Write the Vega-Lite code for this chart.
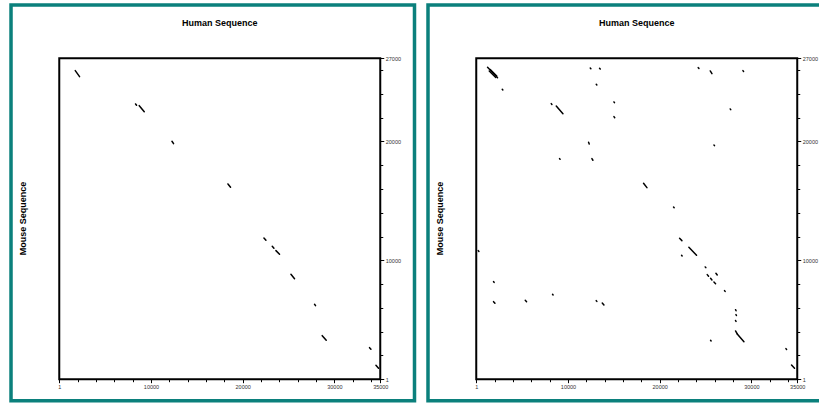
{
  "$schema": "https://vega.github.io/schema/vega-lite/v6.json",
  "background": "white",
  "padding": {"left": 9, "top": 3, "right": 0, "bottom": 0},
  "config": {
    "view": {"stroke": "#0b807c", "strokeWidth": 3.5},
    "font": "Liberation Sans",
    "concat": {"spacing": 9},
    "axis": {"labelFont": "Liberation Sans", "labelFontSize": 5.5, "labelColor": "#333", "tickColor": "black", "tickWidth": 1, "domain": false, "grid": false, "labelOverlap": false, "labelFlush": false, "labelBound": false, "title": null}
  },
  "hconcat": [
    {
      "width": 403.5,
      "height": 395.7,
      "layer": [
        {
          "data": {"values": [
            {"hx1": 1744, "my1": 25957, "hx2": 2213, "my2": 25452},
            {"hx1": 8320, "my1": 23155, "hx2": 8430, "my2": 23046},
            {"hx1": 8722, "my1": 23012, "hx2": 9267, "my2": 22508},
            {"hx1": 12288, "my1": 20018, "hx2": 12462, "my2": 19816},
            {"hx1": 18393, "my1": 16427, "hx2": 18677, "my2": 16149},
            {"hx1": 22317, "my1": 11885, "hx2": 22535, "my2": 11691},
            {"hx1": 23222, "my1": 11187, "hx2": 23407, "my2": 11018},
            {"hx1": 23625, "my1": 10817, "hx2": 24018, "my2": 10514},
            {"hx1": 25261, "my1": 8832, "hx2": 25654, "my2": 8461},
            {"hx1": 27835, "my1": 6308, "hx2": 27944, "my2": 6191},
            {"hx1": 28673, "my1": 3667, "hx2": 29109, "my2": 3280},
            {"hx1": 33832, "my1": 2658, "hx2": 33985, "my2": 2523},
            {"hx1": 34530, "my1": 1178, "hx2": 34813, "my2": 925}
          ]},
          "mark": {"type": "rule", "color": "black", "strokeWidth": 1.5, "strokeCap": "round"},
          "encoding": {
            "x": {"field": "hx1", "type": "quantitative", "scale": {"domain": [-5261, 38734], "nice": false, "zero": false},
              "axis": {"orient": "bottom", "offset": -21.5, "format": "d", "labelOverlap": false, "tickCount": 60,
                "values": [1, 2000, 4000, 6000, 8000, 10000, 12000, 14000, 16000, 18000, 20000, 22000, 24000, 26000, 28000, 30000, 32000, 34000, 35000],
                "labelExpr": "(datum.value == 1 || datum.value % 10000 == 0 || datum.value == 35000) ? datum.label : ''",
                "tickSize": {"condition": {"test": "datum.value == 1 || datum.value % 10000 == 0 || datum.value == 35000", "value": 3.5}, "value": 2.5},
                "labelPadding": 2}},
            "x2": {"field": "hx2"},
            "y": {"field": "my1", "type": "quantitative", "scale": {"domain": [-1804, 31479], "nice": false, "zero": false},
              "axis": {"orient": "right", "offset": -34.25, "format": "d", "labelOverlap": false, "tickCount": 60,
                "values": [1, 2000, 4000, 6000, 8000, 10000, 12000, 14000, 16000, 18000, 20000, 22000, 24000, 26000, 27000],
                "labelExpr": "(datum.value == 1 || datum.value % 10000 == 0 || datum.value == 27000) ? datum.label : ''",
                "tickSize": {"condition": {"test": "datum.value == 1 || datum.value % 10000 == 0 || datum.value == 27000", "value": 3.5}, "value": 2.5},
                "labelPadding": 1.5}},
            "y2": {"field": "my2"}
          }
        },
        {
          "data": {"values": [{}]},
          "mark": {"type": "rect", "fillOpacity": 0, "stroke": "black", "strokeWidth": 2},
          "encoding": {
            "x": {"datum": 0, "type": "quantitative"},
            "x2": {"datum": 35000},
            "y": {"datum": 0, "type": "quantitative"},
            "y2": {"datum": 27000}
          }
        },
        {
          "data": {"values": [{}]},
          "mark": {"type": "text", "text": "Human Sequence", "font": "Liberation Sans", "fontWeight": "bold", "fontSize": 9, "align": "center", "baseline": "middle", "color": "black"},
          "encoding": {
            "x": {"datum": 17500, "type": "quantitative"},
            "y": {"datum": 29968, "type": "quantitative"}
          }
        },
        {
          "data": {"values": [{}]},
          "mark": {"type": "text", "text": "Mouse Sequence", "font": "Liberation Sans", "fontWeight": "bold", "fontSize": 9, "align": "center", "baseline": "middle", "angle": 270, "color": "black"},
          "encoding": {
            "x": {"datum": -3925, "type": "quantitative"},
            "y": {"datum": 13525, "type": "quantitative"}
          }
        }
      ]
    },
    {
      "width": 423.5,
      "height": 395.7,
      "layer": [
        {
          "data": {"values": [
            {"hx1": 1232, "my1": 26243, "hx2": 2322, "my2": 25368},
            {"hx1": 1526, "my1": 26057, "hx2": 2235, "my2": 25510},
            {"hx1": 1417, "my1": 25931, "hx2": 2126, "my2": 25385},
            {"hx1": 2835, "my1": 24392, "hx2": 2900, "my2": 24330},
            {"hx1": 12429, "my1": 26183, "hx2": 12500, "my2": 26120},
            {"hx1": 13444, "my1": 26158, "hx2": 13520, "my2": 26090},
            {"hx1": 13084, "my1": 24813, "hx2": 13150, "my2": 24750},
            {"hx1": 8177, "my1": 23181, "hx2": 8250, "my2": 23110},
            {"hx1": 8722, "my1": 22987, "hx2": 9453, "my2": 22340},
            {"hx1": 15014, "my1": 23324, "hx2": 15070, "my2": 23270},
            {"hx1": 15014, "my1": 22088, "hx2": 15100, "my2": 22000},
            {"hx1": 12247, "my1": 19934, "hx2": 12320, "my2": 19791},
            {"hx1": 9082, "my1": 18555, "hx2": 9140, "my2": 18500},
            {"hx1": 12611, "my1": 18555, "hx2": 12720, "my2": 18420},
            {"hx1": 24205, "my1": 26209, "hx2": 24280, "my2": 26150},
            {"hx1": 25513, "my1": 25931, "hx2": 25699, "my2": 25704},
            {"hx1": 29079, "my1": 25957, "hx2": 29150, "my2": 25890},
            {"hx1": 27694, "my1": 22735, "hx2": 27750, "my2": 22680},
            {"hx1": 25917, "my1": 19707, "hx2": 25980, "my2": 19650},
            {"hx1": 18241, "my1": 16486, "hx2": 18612, "my2": 16116},
            {"hx1": 21512, "my1": 14492, "hx2": 21580, "my2": 14430},
            {"hx1": 218, "my1": 10817, "hx2": 290, "my2": 10750},
            {"hx1": 1886, "my1": 8209, "hx2": 1950, "my2": 8150},
            {"hx1": 1886, "my1": 6527, "hx2": 2039, "my2": 6392},
            {"hx1": 5342, "my1": 6645, "hx2": 5487, "my2": 6527},
            {"hx1": 8319, "my1": 7149, "hx2": 8380, "my2": 7090},
            {"hx1": 13084, "my1": 6611, "hx2": 13150, "my2": 6550},
            {"hx1": 13738, "my1": 6417, "hx2": 13923, "my2": 6249},
            {"hx1": 22170, "my1": 11859, "hx2": 22424, "my2": 11658},
            {"hx1": 22388, "my1": 10430, "hx2": 22450, "my2": 10370},
            {"hx1": 23185, "my1": 11102, "hx2": 24018, "my2": 10430},
            {"hx1": 24968, "my1": 9446, "hx2": 25030, "my2": 9390},
            {"hx1": 25186, "my1": 8798, "hx2": 25331, "my2": 8663},
            {"hx1": 26132, "my1": 8916, "hx2": 26277, "my2": 8773},
            {"hx1": 25549, "my1": 8495, "hx2": 25699, "my2": 8352},
            {"hx1": 25917, "my1": 8184, "hx2": 26095, "my2": 8041},
            {"hx1": 27072, "my1": 7452, "hx2": 27140, "my2": 7390},
            {"hx1": 28272, "my1": 5850, "hx2": 28330, "my2": 5760},
            {"hx1": 28316, "my1": 5440, "hx2": 28370, "my2": 5360},
            {"hx1": 28272, "my1": 4940, "hx2": 28330, "my2": 4860},
            {"hx1": 28272, "my1": 4063, "hx2": 28457, "my2": 3810},
            {"hx1": 28457, "my1": 3810, "hx2": 29188, "my2": 3163},
            {"hx1": 25549, "my1": 3280, "hx2": 25610, "my2": 3220},
            {"hx1": 33767, "my1": 2574, "hx2": 33840, "my2": 2500},
            {"hx1": 34377, "my1": 1203, "hx2": 34704, "my2": 925}
          ]},
          "mark": {"type": "rule", "color": "black", "strokeWidth": 1.5, "strokeCap": "round"},
          "encoding": {
            "x": {"field": "hx1", "type": "quantitative", "scale": {"domain": [-5261, 40915], "nice": false, "zero": false},
              "axis": {"orient": "bottom", "offset": -21.5, "format": "d", "labelOverlap": false, "tickCount": 60,
                "values": [1, 2000, 4000, 6000, 8000, 10000, 12000, 14000, 16000, 18000, 20000, 22000, 24000, 26000, 28000, 30000, 32000, 34000, 35000],
                "labelExpr": "(datum.value == 1 || datum.value % 10000 == 0 || datum.value == 35000) ? datum.label : ''",
                "tickSize": {"condition": {"test": "datum.value == 1 || datum.value % 10000 == 0 || datum.value == 35000", "value": 3.5}, "value": 2.5},
                "labelPadding": 2}},
            "x2": {"field": "hx2"},
            "y": {"field": "my1", "type": "quantitative", "scale": {"domain": [-1804, 31479], "nice": false, "zero": false},
              "axis": {"orient": "right", "offset": -54.25, "format": "d", "labelOverlap": false, "tickCount": 60,
                "values": [1, 2000, 4000, 6000, 8000, 10000, 12000, 14000, 16000, 18000, 20000, 22000, 24000, 26000, 27000],
                "labelExpr": "(datum.value == 1 || datum.value % 10000 == 0 || datum.value == 27000) ? datum.label : ''",
                "tickSize": {"condition": {"test": "datum.value == 1 || datum.value % 10000 == 0 || datum.value == 27000", "value": 3.5}, "value": 2.5},
                "labelPadding": 1.5}},
            "y2": {"field": "my2"}
          }
        },
        {
          "data": {"values": [{}]},
          "mark": {"type": "rect", "fillOpacity": 0, "stroke": "black", "strokeWidth": 2},
          "encoding": {
            "x": {"datum": 0, "type": "quantitative"},
            "x2": {"datum": 35000},
            "y": {"datum": 0, "type": "quantitative"},
            "y2": {"datum": 27000}
          }
        },
        {
          "data": {"values": [{}]},
          "mark": {"type": "text", "text": "Human Sequence", "font": "Liberation Sans", "fontWeight": "bold", "fontSize": 9, "align": "center", "baseline": "middle", "color": "black"},
          "encoding": {
            "x": {"datum": 17500, "type": "quantitative"},
            "y": {"datum": 29968, "type": "quantitative"}
          }
        },
        {
          "data": {"values": [{}]},
          "mark": {"type": "text", "text": "Mouse Sequence", "font": "Liberation Sans", "fontWeight": "bold", "fontSize": 9, "align": "center", "baseline": "middle", "angle": 270, "color": "black"},
          "encoding": {
            "x": {"datum": -3925, "type": "quantitative"},
            "y": {"datum": 13525, "type": "quantitative"}
          }
        }
      ]
    }
  ]
}
